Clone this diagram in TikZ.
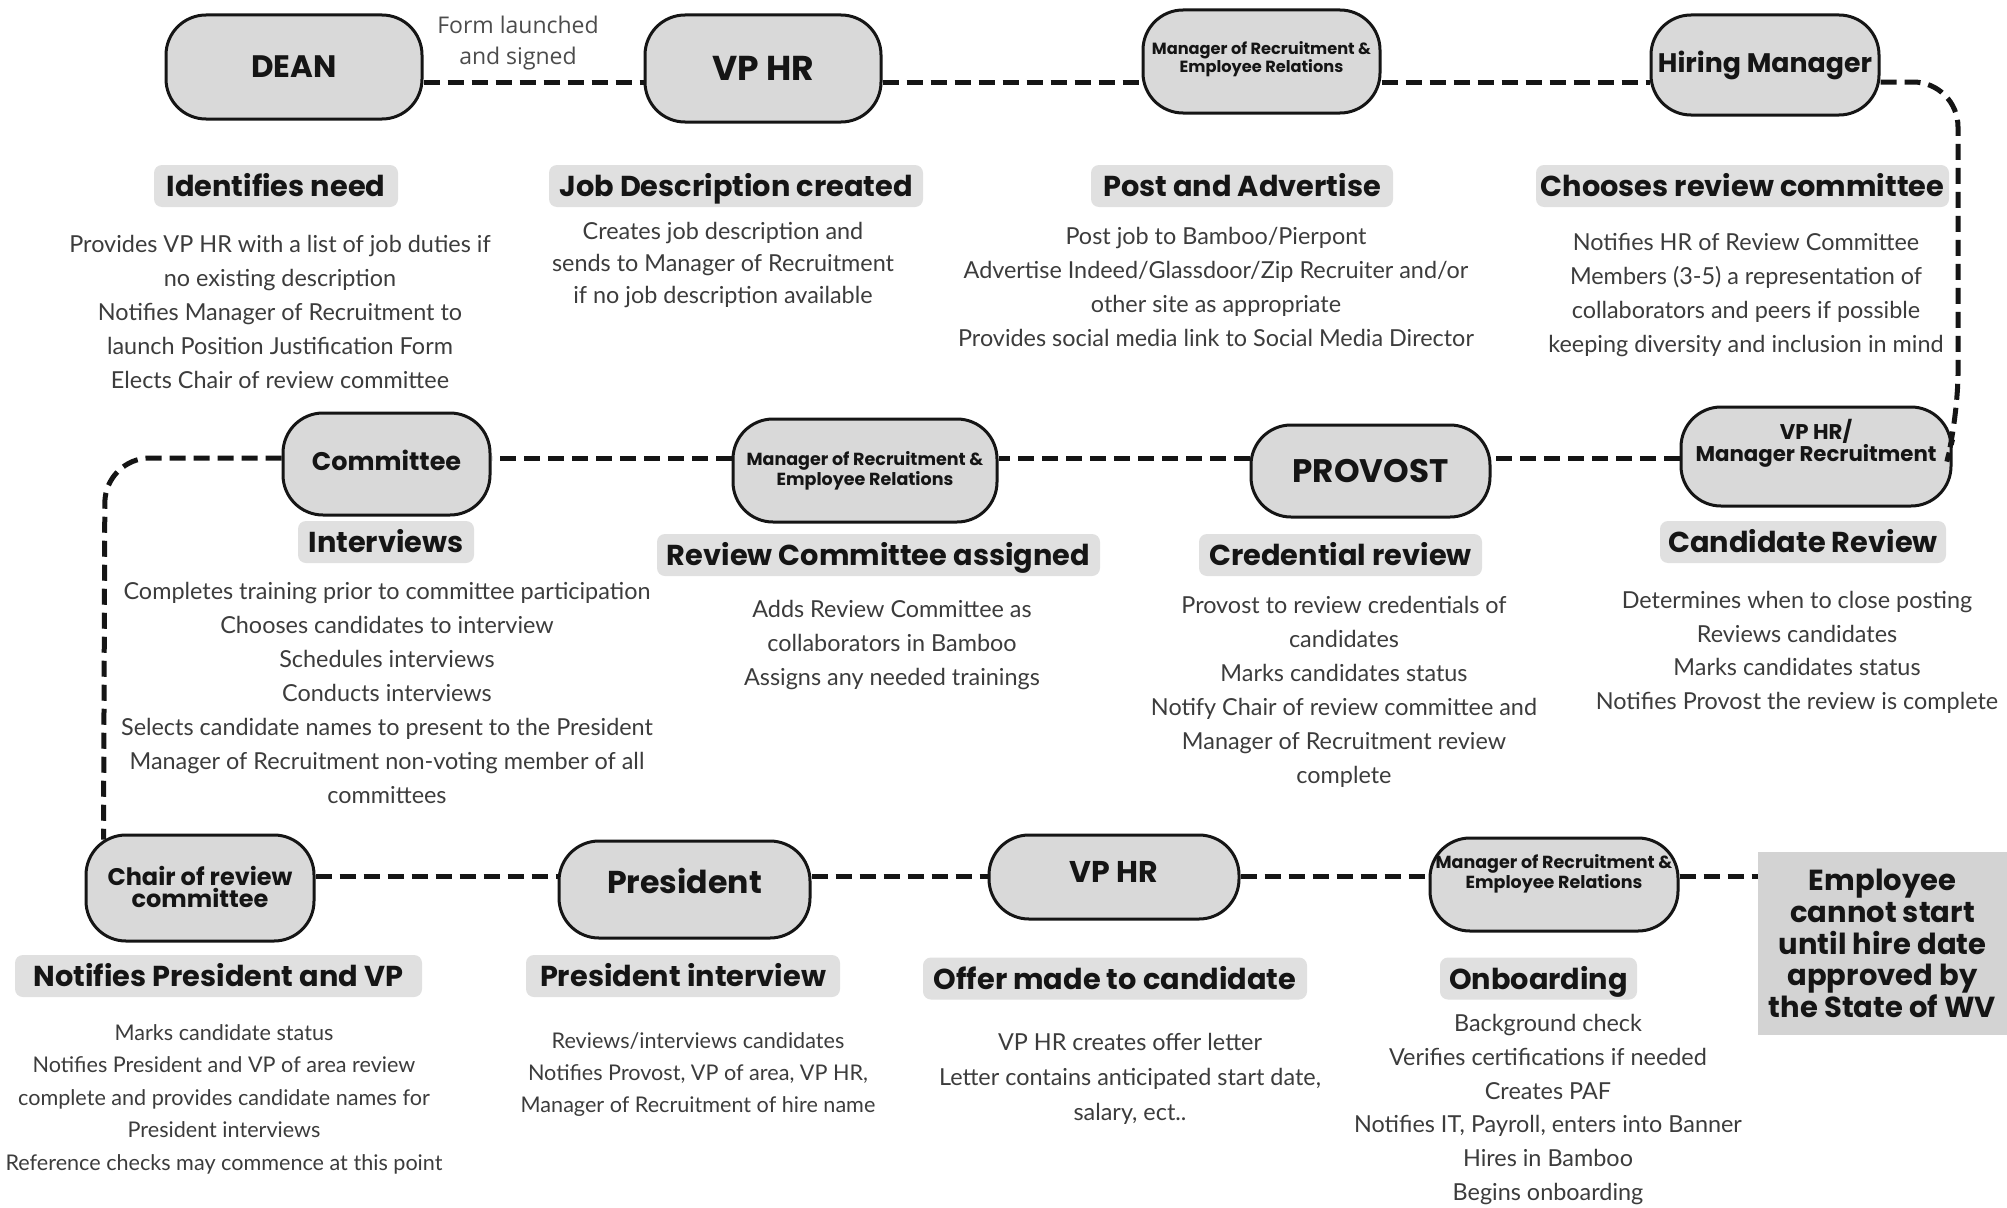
\documentclass[tikz,border=0pt]{standalone}
\usepackage{fontspec}
\setmainfont{Lato}
\newfontfamily\headfont{Poppins}
\newfontfamily\formfont{Open Sans}
\newcommand\rolef[2]{\headfont\bfseries\fontsize{#1}{#2}\selectfont}
\newcommand\bodyf[2]{\fontsize{#1}{#2}\selectfont}
\definecolor{nodegray}{HTML}{D9D9D9}
\definecolor{headgray}{HTML}{E0E0E0}
\definecolor{boxgray}{HTML}{D3D3D3}
\definecolor{bodygray}{HTML}{3C3C3C}
\definecolor{inkblack}{HTML}{151515}
\begin{document}
\begin{tikzpicture}[x=1pt,y=-1pt,
  role/.style={draw=inkblack, line width=3pt, fill=nodegray, rounded corners=40pt, inner sep=0pt, align=center, text=inkblack},
  rolelab/.style={align=center, inner sep=0pt, text=inkblack},
  head/.style={fill=headgray, rounded corners=8pt, inner sep=0pt, text=inkblack, font=\rolef{28.8}{30}, minimum height=42pt, text height=21pt, text depth=0pt},
  body/.style={align=center, inner sep=0pt, text=bodygray, font=\bodyf{23.4}{34}},
  smallbody/.style={align=center, inner sep=0pt, text=bodygray, font=\bodyf{21.6}{32.5}},
  conn/.style={draw=inkblack, line width=5pt, dash pattern=on 16pt off 8pt}]
\useasboundingbox (0,0) rectangle (2007,1207);
\fill[white] (0,0) rectangle (2007,1207);

% ---------- row 1 ----------
\node[role, minimum width=256pt, minimum height=104pt, font=\rolef{31}{33}] (dean) at (294,67) {DEAN};
\node[role, minimum width=236pt, minimum height=107pt, font=\rolef{34.5}{36}] (vphrA) at (763,68.5) {VP HR};
\node[role, minimum width=237pt, minimum height=103pt,
  label={[rolelab, font=\rolef{16.2}{16}, yshift=2.5pt]center:{Manager of Recruitment \&\\Employee Relations}}] (mgrA) at (1261.5,61.5) {};
\node[role, minimum width=228pt, minimum height=100pt, font=\rolef{26.8}{28}] (hm) at (1765,65) {Hiring Manager};
\node[align=center, inner sep=0pt, text=black!70, font=\formfont\fontsize{23}{31}\selectfont] (form) at (518,43.5) {Form launched\\and signed};

\coordinate (r1) at (0,82);
\coordinate (c1) at (1958,82);
\coordinate (c2) at (1958,418);
\draw[conn] (dean.east |- r1) -- (vphrA.west |- r1);
\draw[conn] (vphrA.east |- r1) -- (mgrA.west |- r1);
\draw[conn] (mgrA.east |- r1) -- (hm.west |- r1);

\node[head, minimum width=244pt] (h1) at (276,186) {Identifies need};
\node[head, minimum width=374pt] (h2) at (736,186) {Job Description created};
\node[head, minimum width=302pt] (h3) at (1242,186) {Post and Advertise};
\node[head, minimum width=413pt] (h4) at (1742.5,186) {Chooses review committee};

\node[body] (b1) at (280,312) {Provides VP HR with a list of job duties if\\no existing description\\Notifies Manager of Recruitment to\\launch Position Justification Form\\Elects Chair of review committee};
\node[body, font=\bodyf{23.4}{32}] (b2) at (723,265) {Creates job description and\\sends to Manager of Recruitment\\if no job description available};
\node[body] (b3) at (1216,286.5) {Post job to Bamboo/Pierpont\\Advertise Indeed/Glassdoor/Zip Recruiter and/or\\other site as appropriate\\Provides social media link to Social Media Director};
\node[body] (b4) at (1746,295.5) {Notifies HR of Review Committee\\Members (3-5) a representation of\\collaborators and peers if possible\\keeping diversity and inclusion in mind};

% ---------- row 2 ----------
\node[role, minimum width=207pt, minimum height=102pt,
  label={[rolelab, font=\rolef{25.5}{27}, yshift=4pt]center:Committee}] (comm) at (386.5,464) {};
\node[role, minimum width=264pt, minimum height=103pt,
  label={[rolelab, font=\rolef{17.5}{18}]center:{Manager of Recruitment \&\\Employee Relations}}] (mgrB) at (865,470.5) {};
\node[role, minimum width=239pt, minimum height=92pt, font=\rolef{32.6}{34}] (provost) at (1370.5,471) {PROVOST};
\node[role, minimum width=270pt, minimum height=99pt,
  label={[rolelab, font=\rolef{21.3}{20}, yshift=13.5pt]center:{VP HR/\\Manager Recruitment}}] (vpmr) at (1816,456.5) {};

\draw[conn, rounded corners=45pt] (hm.east |- r1) -- (c1) -- (c2) -- ([yshift=17pt]vpmr.east);

\coordinate (r2) at (0,458);
\coordinate (c3) at (105,458);
\draw[conn] (vpmr.west |- r2) -- (provost.east |- r2);
\draw[conn] (provost.west |- r2) -- (mgrB.east |- r2);
\draw[conn] (mgrB.west |- r2) -- (comm.east |- r2);

\node[head, minimum width=176pt] (h5) at (386,542) {Interviews};
\node[head, minimum width=443pt] (h6) at (878.5,555) {Review Committee assigned};
\node[head, minimum width=283pt] (h7) at (1340.5,555) {Credential review};
\node[head, minimum width=286pt] (h8) at (1803,542) {Candidate Review};

\node[body] (b5) at (387,693) {Completes training prior to committee participation\\Chooses candidates to interview\\Schedules interviews\\Conducts interviews\\Selects candidate names to present to the President\\Manager of Recruitment non-voting member of all\\committees};
\node[body] (b6) at (892,645.5) {Adds Review Committee as\\collaborators in Bamboo\\Assigns any needed trainings};
\node[body] (b7) at (1344,692) {Provost to review credentials of\\candidates\\Marks candidates status\\Notify Chair of review committee and\\Manager of Recruitment review\\complete};
\node[body, font=\bodyf{23.4}{33.7}] (b8) at (1797,652.5) {Determines when to close posting\\Reviews candidates\\Marks candidates status\\Notifies Provost the review is complete};

% ---------- row 3 ----------
\node[role, minimum width=228pt, minimum height=106pt,
  label={[rolelab, font=\rolef{24}{22}, yshift=1pt]center:{Chair of review\\committee}}] (chair) at (200,888) {};
\node[role, minimum width=251pt, minimum height=97pt,
  label={[rolelab, font=\rolef{31.6}{33}, yshift=8.5pt]center:President}] (pres) at (684.5,889.5) {};
\node[role, minimum width=250pt, minimum height=84pt,
  label={[rolelab, font=\rolef{30}{32}, yshift=5pt]center:VP HR}] (vphrC) at (1114,877) {};
\node[role, minimum width=248pt, minimum height=93pt,
  label={[rolelab, font=\rolef{17.5}{17}, yshift=11pt]center:{Manager of Recruitment \&\\Employee Relations}}] (mgrC) at (1554,884.5) {};
\node[fill=boxgray, inner sep=0pt, minimum width=249pt, minimum height=183pt, align=center, text=inkblack, font=\rolef{29}{31.7}] (emp) at (1882.5,943.5) {Employee\\cannot start\\until hire date\\approved by\\the State of WV};

\draw[conn, rounded corners=45pt] (comm.west |- r2) -- (c3) -- ([xshift=19pt,yshift=-6pt]chair.north west);

\coordinate (r3) at (0,876);
\draw[conn] (chair.east |- r3) -- (pres.west |- r3);
\draw[conn] (pres.east |- r3) -- (vphrC.west |- r3);
\draw[conn] (vphrC.east |- r3) -- (mgrC.west |- r3);
\draw[conn] (mgrC.east |- r3) -- (emp.west |- r3);

\node[head, minimum width=407pt] (h9) at (218.5,976) {Notifies President and VP};
\node[head, minimum width=314pt] (h10) at (683,976) {President interview};
\node[head, minimum width=384pt] (h11) at (1115,978.5) {Offer made to candidate};
\node[head, minimum width=197pt] (h12) at (1538.5,978.5) {Onboarding};

\node[smallbody] (b9) at (224,1099) {Marks candidate status\\Notifies President and VP of area review\\complete and provides candidate names for\\President interviews\\Reference checks may commence at this point};
\node[smallbody, font=\bodyf{21.6}{32}] (b10) at (698,1075) {Reviews/interviews candidates\\Notifies Provost, VP of area, VP HR,\\Manager of Recruitment of hire name};
\node[body, font=\bodyf{23.4}{35}] (b11) at (1130,1079) {VP HR creates offer letter\\Letter contains anticipated start date,\\salary, ect..};
\node[body, font=\bodyf{23.4}{33.8}] (b12) at (1548,1109.5) {Background check\\Verifies certifications if needed\\Creates PAF\\Notifies IT, Payroll, enters into Banner\\Hires in Bamboo\\Begins onboarding};
\end{tikzpicture}
\end{document}
